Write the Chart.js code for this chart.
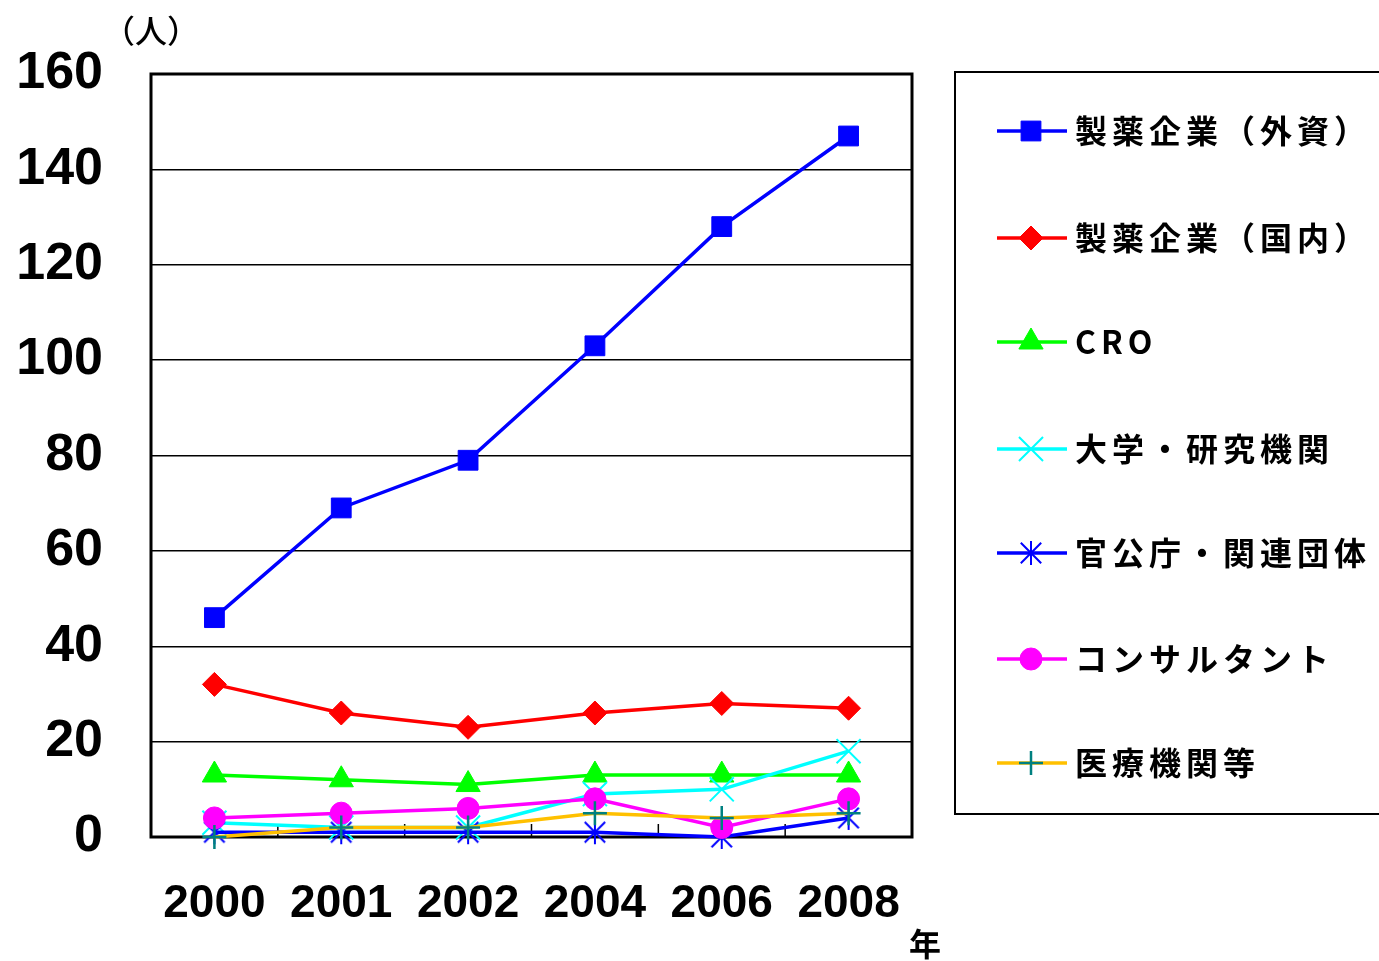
<!DOCTYPE html>
<html>
<head>
<meta charset="utf-8">
<script src="https://cdn.jsdelivr.net/npm/chart.js@4"></script>
<style>
html,body{margin:0;padding:0;background:#fff;}
#wrap{width:1379px;height:961px;position:relative;}
</style>
</head>
<body>
<div id="wrap"><canvas id="c" width="1379" height="961"></canvas></div>
<script>
const categories = ['2000','2001','2002','2004','2006','2008'];
const seriesNames = ['製薬企業（外資）','製薬企業（国内）','CRO','大学・研究機関','官公庁・関連団体','コンサルタント','医療機関等'];
const foreignPharma = [46, 69, 79, 103, 128, 147];
const domesticPharma = [32, 26, 23, 26, 28, 27];
const cro = [13, 12, 11, 13, 13, 13];
const university = [3, 2, 2, 9, 10, 18];
const government = [1, 1, 1, 1, 0, 4];
const consultant = [4, 5, 6, 8, 2, 8];
const medical = [0, 2, 2, 5, 4, 5];
const yTicks = [0, 20, 40, 60, 80, 100, 120, 140, 160];

// asterisk marker (vertical + X)
function makeAsterisk(color, size, lw){
  const c = document.createElement('canvas');
  c.width = size; c.height = size;
  const g = c.getContext('2d');
  g.strokeStyle = color; g.lineWidth = lw; g.lineCap = 'butt';
  const h = size/2, r = size/2 - 1;
  g.beginPath();
  g.moveTo(h, h - r); g.lineTo(h, h + r);
  g.moveTo(h - r*0.85, h - r*0.85); g.lineTo(h + r*0.85, h + r*0.85);
  g.moveTo(h + r*0.85, h - r*0.85); g.lineTo(h - r*0.85, h + r*0.85);
  g.stroke();
  return c;
}
const asterisk = makeAsterisk('#0000FF', 26, 2);

const seriesData = [foreignPharma, domesticPharma, cro, university, government, consultant, medical];
const styles = [
  {line:'#0000FF', pt:'#0000FF', ptBorder:'#0000FF', style:'rect', r:14, bw:1},
  {line:'#FF0000', pt:'#FF0000', ptBorder:'#FF0000', style:'rectRot', r:12, bw:1},
  {line:'#00FF00', pt:'#00FF00', ptBorder:'#00FF00', style:'triangle', r:14, bw:1},
  {line:'#00FFFF', pt:'#00FFFF', ptBorder:'#00FFFF', style:'crossRot', r:17, bw:2},
  {line:'#0000FF', pt:'#0000FF', ptBorder:'#0000FF', style:asterisk, r:13, bw:2},
  {line:'#FF00FF', pt:'#FF00FF', ptBorder:'#FF00FF', style:'circle', r:11, bw:1},
  {line:'#FFC000', pt:'#008080', ptBorder:'#008080', style:'cross', r:12, bw:2.5}
];

const datasets = seriesNames.map((name, i) => ({
  label: name,
  data: seriesData[i],
  borderColor: styles[i].line,
  backgroundColor: styles[i].pt,
  pointBackgroundColor: styles[i].pt,
  pointBorderColor: styles[i].ptBorder,
  pointBorderWidth: styles[i].bw,
  pointStyle: styles[i].style,
  pointRadius: styles[i].r,
  pointHoverRadius: styles[i].r,
  borderWidth: 3.5,
  tension: 0,
  clip: false,
  order: seriesNames.length - i
}));

const framePlugin = {
  id: 'frame',
  beforeDatasetsDraw(chart){
    const {ctx, chartArea:a} = chart;
    ctx.save();
    ctx.strokeStyle = '#000'; ctx.lineWidth = 1.5;
    const step = (a.right - a.left) / categories.length;
    for (let i = 1; i < categories.length; i++){
      const px = a.left + step * i;
      ctx.beginPath(); ctx.moveTo(px, a.bottom); ctx.lineTo(px, a.bottom - 13); ctx.stroke();
    }
    ctx.lineWidth = 3;
    ctx.strokeRect(a.left, a.top, a.right - a.left, a.bottom - a.top);
    ctx.restore();
  },
  afterDraw(chart){
    const {ctx} = chart;
    ctx.save();
    ctx.fillStyle = '#000';
    ctx.textBaseline = 'middle';
    ctx.textAlign = 'left';
    ctx.font = '500 32px "Noto Sans CJK JP"';
    ctx.fillText('（人）', 103, 31);
    ctx.font = 'bold 32px "Noto Sans CJK JP"';
    ctx.fillText('年', 909, 944);
    // legend box
    ctx.strokeStyle = '#000'; ctx.lineWidth = 2;
    ctx.strokeRect(955, 72, 500, 742);
    const ys = [131, 238, 342, 449, 553, 659, 763];
    chart.data.datasets.forEach((ds, i) => {
      const y = ys[i];
      ctx.strokeStyle = ds.borderColor; ctx.lineWidth = 3.5;
      ctx.beginPath(); ctx.moveTo(997, y); ctx.lineTo(1067, y); ctx.stroke();
      ctx.fillStyle = ds.pointBackgroundColor;
      ctx.strokeStyle = ds.pointBorderColor;
      ctx.lineWidth = ds.pointBorderWidth;
      Chart.helpers.drawPoint(ctx, {
        pointStyle: ds.pointStyle, radius: ds.pointRadius, rotation: 0,
        borderWidth: ds.pointBorderWidth
      }, 1031, y);
      ctx.fillStyle = '#000';
      ctx.font = 'bold 32px "Noto Sans CJK JP"';
      ctx.letterSpacing = '5px';
      ctx.textBaseline = 'middle';
      ctx.fillText(ds.label, 1075, y);
      ctx.letterSpacing = '0px';
    });
    ctx.restore();
  }
};

new Chart(document.getElementById('c'), {
  type: 'line',
  data: { labels: categories, datasets },
  options: {
    responsive: false,
    animation: false,
    devicePixelRatio: 1,
    layout: { padding: { top: 74, right: 467, left: 0, bottom: 0 } },
    plugins: { legend: { display: false }, tooltip: { enabled: false } },
    scales: {
      x: {
        offset: true,
        grid: { display: false, drawTicks: false },
        border: { display: false },
        ticks: { color: '#000', font: { family: '"Liberation Sans", Arial', size: 46, weight: 'bold' }, padding: 40, maxRotation: 0 },
        afterFit(s){ s.height = 124; s.paddingLeft = 0; s.paddingRight = 0; }
      },
      y: {
        min: 0, max: 160,
        afterBuildTicks(s){ s.ticks = yTicks.map(v => ({value: v})); },
        grid: { color: '#000', lineWidth: 1.5, drawTicks: false },
        border: { display: false },
        ticks: { color: '#000', font: { family: '"Liberation Sans", Arial', size: 52, weight: 'bold' }, padding: 48 },
        afterFit(s){ s.width = 151; s.paddingTop = 0; s.paddingBottom = 0; }
      }
    }
  },
  plugins: [framePlugin]
});
</script>
</body>
</html>
